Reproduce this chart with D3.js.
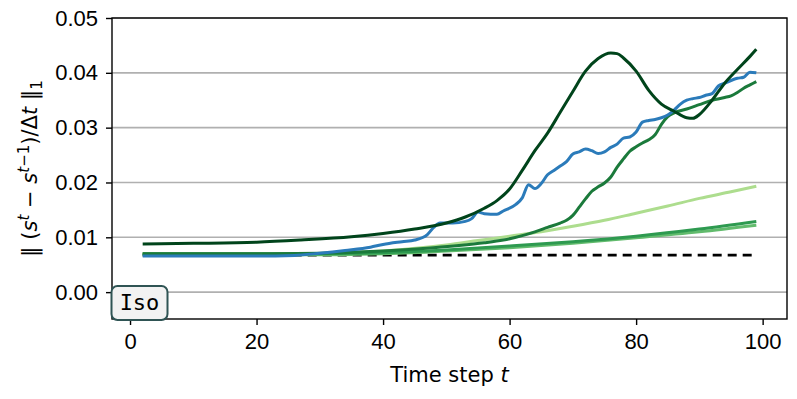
<!DOCTYPE html>
<html>
<head>
<meta charset="utf-8">
<title>Iso step size</title>
<script src="https://cdnjs.cloudflare.com/ajax/libs/d3/7.8.5/d3.min.js"></script>
<style>
  body { margin: 0; background: #fff; }
  svg { display: block; font-family: "DejaVu Sans", sans-serif; }
  .line { fill: none; stroke-linejoin: round; stroke-linecap: butt; }
  .grid line { stroke: #b0b0b0; stroke-width: 1.6; }
  .axis path, .axis line { stroke: #000; stroke-width: 1.4; }
  .axis text { font-size: 22px; fill: #000; }
</style>
</head>
<body>
<svg id="chart" width="797" height="399"></svg>
<script>
// time steps and values
var xTicks = [0, 20, 40, 60, 80, 100];
var yTicks = [0, 0.01, 0.02, 0.03, 0.04, 0.05];

var baseT = [2, 99];
var baseV = [0.00675, 0.00675];

var darkT = [2, 10, 20, 27, 35, 40, 45, 50, 53, 56, 58, 60, 62, 64, 66, 68, 70, 72, 74, 76, 77, 78, 80, 82, 84, 86, 88, 89, 90, 92, 94, 96, 98, 99];
var darkV = [0.0088, 0.0089, 0.0091, 0.0095, 0.0101, 0.0107, 0.0115, 0.0126, 0.0137, 0.0153, 0.0167, 0.0188, 0.0222, 0.0258, 0.0290, 0.0328, 0.0366, 0.0403, 0.0426, 0.0436, 0.0435, 0.0427, 0.0403, 0.0368, 0.0343, 0.0330, 0.0318, 0.0317, 0.0324, 0.0350, 0.0381, 0.0406, 0.0430, 0.0443];

var blueT = [2, 10, 20, 26, 30, 34, 38, 40, 43, 45, 47, 48, 49, 51, 53, 54, 55, 56, 58, 59, 61, 62, 63, 64, 65, 66, 67, 68, 69, 70, 71, 72, 73, 74, 75, 76, 77, 78, 79, 80, 81, 82, 83, 84, 85, 86, 87, 88, 89, 90, 91, 92, 93, 94, 95, 96, 97, 98, 99];
var blueV = [0.0066, 0.0066, 0.0066, 0.0067, 0.0071, 0.0076, 0.0082, 0.0087, 0.0092, 0.0095, 0.0105, 0.0118, 0.0126, 0.0126, 0.0129, 0.0134, 0.0146, 0.0143, 0.0142, 0.0148, 0.0160, 0.0172, 0.0196, 0.0189, 0.0198, 0.0214, 0.0222, 0.0230, 0.0238, 0.0252, 0.0256, 0.0261, 0.0258, 0.0253, 0.0256, 0.0264, 0.0270, 0.0281, 0.0283, 0.0292, 0.0310, 0.0313, 0.0315, 0.0318, 0.0323, 0.0332, 0.0343, 0.0350, 0.0353, 0.0355, 0.0359, 0.0362, 0.0376, 0.0381, 0.0386, 0.0390, 0.0392, 0.0401, 0.0400];

var midT = [2, 20, 30, 40, 48, 52, 56, 59, 62, 64, 66, 68, 69, 70, 71, 72, 73, 74, 75, 76, 77, 78, 79, 80, 81, 82, 83, 84, 85, 86, 88, 90, 92, 94, 95, 96, 97, 98, 99];
var midV = [0.0070, 0.0070, 0.0071, 0.0075, 0.0081, 0.0085, 0.0090, 0.0095, 0.0103, 0.0110, 0.0118, 0.0126, 0.0131, 0.0140, 0.0155, 0.0170, 0.0184, 0.0192, 0.0199, 0.0210, 0.0228, 0.0243, 0.0257, 0.0265, 0.0272, 0.0278, 0.0287, 0.0306, 0.0320, 0.0327, 0.0334, 0.0342, 0.0350, 0.0355, 0.0358, 0.0364, 0.0372, 0.0378, 0.0384];

var lowT = [2, 20, 30, 36, 40, 50, 60, 70, 80, 90, 99];
var lowAV = [0.0070, 0.0070, 0.0070, 0.0071, 0.0072, 0.0077, 0.0084, 0.0092, 0.0102, 0.0115, 0.0129];
var lowBV = [0.0068, 0.0068, 0.0068, 0.0069, 0.0070, 0.0075, 0.0081, 0.0089, 0.0099, 0.0110, 0.0122];

var lightT = [2, 20, 30, 40, 50, 55, 60, 65, 70, 75, 80, 85, 90, 95, 99];
var lightV = [0.0069, 0.0069, 0.0070, 0.0075, 0.0086, 0.0094, 0.0102, 0.0110, 0.0120, 0.0131, 0.0144, 0.0157, 0.0171, 0.0183, 0.0193];

var svg = d3.select("#chart");
var mLeft = 112, mRight = 787, mTop = 18, mBottom = 319;

var x = d3.scaleLinear().domain([-2.85, 103.85]).range([mLeft, mRight]);
var y = d3.scaleLinear().domain([-0.0049, 0.05]).range([mBottom, mTop]);

// grid
svg.append("g").attr("class", "grid")
  .selectAll("line").data(yTicks).enter().append("line")
  .attr("x1", mLeft).attr("x2", mRight)
  .attr("y1", function(d) { return y(d); })
  .attr("y2", function(d) { return y(d); });

function pairs(ts, vs) {
  return ts.map(function(t, i) { return [t, vs[i]]; });
}

var line = d3.line()
  .x(function(d) { return x(d[0]); })
  .y(function(d) { return y(d[1]); })
  .curve(d3.curveMonotoneX);

var series = [
  { t: baseT, v: baseV, color: "#000", width: 2.6, dash: "9,6" },
  { t: lightT, v: lightV, color: "#addd8e", width: 3 },
  { t: lowT, v: lowBV, color: "#62bb6d", width: 3 },
  { t: lowT, v: lowAV, color: "#2e9a50", width: 3 },
  { t: midT, v: midV, color: "#1b7a3b", width: 3 },
  { t: blueT, v: blueV, color: "#2b7bba", width: 3 },
  { t: darkT, v: darkV, color: "#00441b", width: 3 }
];

series.forEach(function(s) {
  svg.append("path")
    .attr("class", "line")
    .attr("d", line(pairs(s.t, s.v)))
    .style("stroke", s.color)
    .style("stroke-width", s.width)
    .style("stroke-dasharray", s.dash || null);
});

// axes
var xAxis = d3.axisBottom(x).tickValues(xTicks).tickSize(6).tickPadding(8).tickFormat(d3.format("d"));
var yAxis = d3.axisLeft(y).tickValues(yTicks).tickSize(6).tickPadding(8).tickFormat(d3.format(".2f"));

svg.append("g").attr("class", "axis")
  .attr("transform", "translate(0," + mBottom + ")")
  .call(xAxis)
  .call(function(g) { g.select(".domain").remove(); });

svg.append("g").attr("class", "axis")
  .attr("transform", "translate(" + mLeft + ",0)")
  .call(yAxis)
  .call(function(g) { g.select(".domain").remove(); });

// spines
svg.append("rect")
  .attr("x", mLeft).attr("y", mTop)
  .attr("width", mRight - mLeft).attr("height", mBottom - mTop)
  .attr("fill", "none").attr("stroke", "#000").attr("stroke-width", 1.4);

// axis labels
var xl = svg.append("text")
  .attr("x", (mLeft + mRight) / 2).attr("y", 382)
  .attr("text-anchor", "middle")
  .style("font-size", "21px");
xl.append("tspan").text("Time step ");
xl.append("tspan").style("font-style", "italic").text("t");

var yl = svg.append("text")
  .attr("transform", "translate(37," + ((mTop + mBottom) / 2) + ") rotate(-90)")
  .attr("text-anchor", "middle")
  .style("font-size", "21px");
yl.append("tspan").text("\u2016 (");
yl.append("tspan").style("font-style", "italic").text("s");
yl.append("tspan").style("font-style", "italic").style("font-size", "15px").attr("dy", -8).text("t");
yl.append("tspan").attr("dy", 8).text(" \u2212 ");
yl.append("tspan").style("font-style", "italic").text("s");
yl.append("tspan").style("font-style", "italic").style("font-size", "15px").attr("dy", -8).text("t");
yl.append("tspan").style("font-size", "15px").text("\u22121");
yl.append("tspan").attr("dy", 8).text(")/\u0394");
yl.append("tspan").style("font-style", "italic").text("t");
yl.append("tspan").text(" \u2016");
yl.append("tspan").style("font-size", "15px").attr("dy", 5).text("1");

// Iso badge
svg.append("rect")
  .attr("x", 111.5).attr("y", 286)
  .attr("width", 56).attr("height", 34).attr("rx", 6)
  .attr("fill", "#f2f2f2").attr("stroke", "#2f5454").attr("stroke-width", 2);
svg.append("text")
  .attr("x", 139.5).attr("y", 310)
  .attr("text-anchor", "middle")
  .style("font-family", "'DejaVu Sans Mono', monospace")
  .style("font-size", "22px")
  .text("Iso");
</script>
</body>
</html>
